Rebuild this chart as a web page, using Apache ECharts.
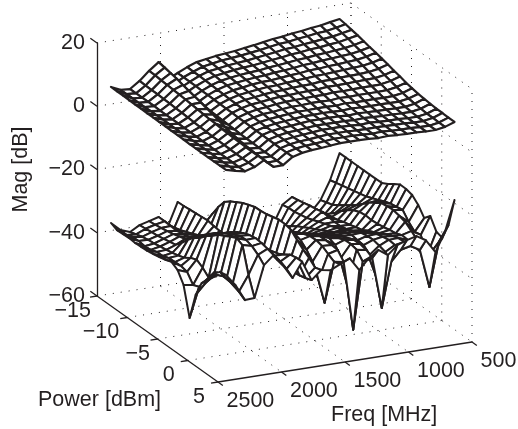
<!DOCTYPE html>
<html>
<head>
<meta charset="utf-8">
<title>Mag vs Power and Freq</title>
<script src="https://cdn.jsdelivr.net/npm/echarts@6/dist/echarts.min.js"></script>
<style>
  html, body { margin: 0; padding: 0; background: #fff; }
  #chart { width: 518px; height: 429px; }
</style>
</head>
<body>
<div id="chart"></div>
<script>
const freqTicks = [2500, 2000, 1500, 1000, 500]
const powerTicks = [-15, -10, -5, 0, 5]
const magTicks = [-60, -40, -20, 0, 20]

const freqs = [590, 665, 740, 815, 890, 965, 1040, 1115, 1190, 1265, 1340, 1415, 1490, 1565, 1640, 1715, 1790, 1865, 1940, 2015, 2090, 2165, 2240, 2315, 2390]
const powers = [-15, -14, -13, -12, -11, -10, -9, -8, -7, -6, -5, -4, -3, -2, -1, 0, 1, 2, 3, 4]

// one row per entry of freqs, one column per entry of powers
const magUpper = [
  [15.5,15.2,14.8,14.4,13.9,13.4,13,12.5,12,11.4,10.9,10.3,9.9,9.5,9.3,9.1,8.9,8.9,8.8,8.8],
  [15,14.6,14.2,13.8,13.2,12.7,12.2,11.7,11.1,10.5,10,9.4,8.9,8.5,8.2,8,7.8,7.8,7.7,7.7],
  [14.4,14,13.6,13.2,12.7,12.2,11.7,11.2,10.6,10,9.4,8.9,8.4,8,7.7,7.5,7.3,7.3,7.2,7.2],
  [14.1,13.8,13.3,12.9,12.4,12,11.5,11,10.4,9.9,9.3,8.8,8.3,8,7.7,7.5,7.3,7.3,7.2,7.2],
  [13.6,13.3,12.9,12.5,12.1,11.7,11.2,10.8,10.3,9.8,9.3,8.8,8.4,8.1,7.8,7.6,7.5,7.5,7.4,7.4],
  [13.3,13,12.6,12.3,11.9,11.5,11.1,10.6,10.2,9.7,9.2,8.8,8.3,8,7.8,7.6,7.5,7.5,7.4,7.4],
  [12.8,12.5,12.2,11.9,11.5,11.2,10.8,10.4,10,9.6,9.1,8.7,8.3,8.1,7.9,7.7,7.6,7.6,7.5,7.5],
  [12.5,12.3,12,11.7,11.3,11,10.7,10.3,10,9.6,9.2,8.8,8.5,8.2,8,7.9,7.8,7.7,7.7,7.7],
  [12,11.8,11.5,11.2,10.9,10.6,10.3,10,9.6,9.3,8.9,8.5,8.2,8,7.8,7.7,7.6,7.6,7.5,7.5],
  [11.5,11.3,11.1,10.9,10.6,10.3,10.1,9.8,9.5,9.2,8.9,8.6,8.3,8.1,8,7.9,7.8,7.7,7.7,7.7],
  [11.1,10.9,10.7,10.5,10.3,10.1,9.8,9.6,9.4,9.1,8.8,8.6,8.3,8.2,8,7.9,7.9,7.8,7.8,7.8],
  [10.6,10.5,10.3,10.1,9.9,9.7,9.5,9.3,9.1,8.9,8.7,8.4,8.2,8.1,8,7.9,7.9,7.8,7.8,7.8],
  [10.3,10.2,10,9.9,9.7,9.5,9.4,9.2,9,8.8,8.6,8.4,8.2,8.1,8,7.9,7.9,7.8,7.8,7.8],
  [10,9.9,9.7,9.6,9.4,9.2,9.1,8.9,8.7,8.5,8.3,8.1,7.9,7.8,7.7,7.6,7.6,7.5,7.5,7.5],
  [9.5,9.4,9.2,9.1,9,8.8,8.6,8.5,8.3,8.1,7.9,7.7,7.6,7.5,7.4,7.3,7.3,7.2,7.2,7.2],
  [9,8.9,8.8,8.7,8.5,8.4,8.2,8.1,7.9,7.8,7.6,7.5,7.3,7.2,7.1,7.1,7,7,7,7],
  [7.9,7.8,7.8,7.7,7.6,7.5,7.4,7.3,7.2,7.1,7,6.9,6.8,6.7,6.7,6.6,6.6,6.6,6.6,6.6],
  [6.5,6.5,6.4,6.4,6.3,6.3,6.2,6.2,6.1,6.1,6,6,5.9,5.9,5.9,5.8,5.8,5.8,5.8,5.8],
  [5,4.9,4.9,4.8,4.7,4.6,4.5,4.4,4.3,4.2,4.1,4,3.9,3.8,3.8,3.7,3.7,3.7,3.7,3.7],
  [10.9,10.5,10.1,9.7,9.1,8.6,8.1,7.6,7,6.5,5.9,5.3,4.8,4.4,4.1,3.9,3.7,3.7,3.6,3.6],
  [8.6,8.5,8.3,8.2,8,7.9,7.7,7.5,7.3,7.1,6.9,6.8,6.6,6.5,6.4,6.3,6.2,6.2,6.2,6.2],
  [5.9,5.8,5.7,5.7,5.6,5.5,5.4,5.3,5.2,5,4.9,4.8,4.7,4.7,4.6,4.6,4.5,4.5,4.5,4.5],
  [3.8,3.8,3.8,3.8,3.8,3.7,3.7,3.7,3.7,3.7,3.7,3.6,3.6,3.6,3.6,3.6,3.6,3.6,3.6,3.6],
  [4,4,4,4,4,4.1,4.1,4.1,4.1,4.1,4.1,4.2,4.2,4.2,4.2,4.2,4.2,4.2,4.2,4.2],
  [5.4,5.4,5.4,5.3,5.3,5.3,5.2,5.2,5.2,5.2,5.1,5.1,5.1,5,5,5,5,5,5,5]
]

const magLower = [
  [-26.9,-26.9,-26.9,-26.9,-26.9,-26.9,-26.9,-26.8,-25.8,-24.4,-23.2,-23.3,-23.8,-25.6,-28.4,-26.4,-30,-30.6,-25.2,-15.9],
  [-35,-34.5,-34,-33.5,-33,-32.5,-32,-31.2,-30.4,-29.5,-28.8,-28.5,-28.1,-30.5,-32.3,-31.9,-37.2,-34,-30,-25.5],
  [-40.8,-40.2,-39.6,-38.3,-37,-35.6,-34.2,-32.5,-30.8,-29.4,-28.1,-27.8,-27.6,-28.1,-28.7,-30.2,-31.7,-35,-43.8,-31.4],
  [-44.1,-43.4,-42.7,-41,-39,-37,-35.3,-34,-33.2,-32.9,-33.1,-32.9,-32.6,-32.1,-31.8,-31,-31.2,-31.5,-31.6,-27.2],
  [-41.4,-40.7,-40,-39.2,-38.9,-38.4,-38,-37.3,-36.8,-36.2,-35.7,-34.6,-33.7,-32.6,-31.6,-30.8,-30.1,-30,-29.9,-25.4],
  [-38.4,-38,-37.6,-37.1,-36.8,-36.3,-36.5,-36.8,-36.7,-36.3,-35.5,-34.5,-33.2,-32.1,-31.1,-30.6,-30.2,-30.5,-30.6,-26.2],
  [-40.4,-40,-39.9,-39.5,-39.1,-38.4,-37.6,-36.9,-36.2,-35.5,-34.7,-33.6,-32.7,-31.6,-31.2,-31.1,-31.6,-32.2,-33.9,-27.3],
  [-46.3,-45.3,-44,-42.6,-41.3,-40.2,-39.1,-38.1,-37,-36,-35,-33.6,-32.6,-31.8,-32.1,-32.3,-34,-39.1,-48.1,-30],
  [-49,-47.9,-46.6,-45.2,-43.9,-42.5,-40.8,-39.2,-37.8,-36.5,-35.1,-33.7,-32.7,-31.6,-31,-30.2,-30.1,-30.6,-31.8,-27.9],
  [-49.5,-48.1,-46.8,-45,-43.4,-42,-40.6,-39.3,-37.9,-36.6,-35.2,-33.8,-32.5,-31.4,-30.5,-29.7,-29.6,-30.1,-32.5,-30],
  [-47.1,-45.7,-44.4,-43,-41.7,-40.3,-38.9,-37.6,-36.2,-35.2,-34.1,-32.7,-31.7,-30.6,-30,-30.8,-33.5,-40.7,-53.5,-33.3],
  [-46,-44.6,-43.3,-41.9,-40.6,-39.2,-37.8,-36.5,-35.1,-34.1,-33.1,-32,-31,-29.9,-28.9,-28.8,-29,-29.2,-31.6,-29.1],
  [-44.9,-43.5,-41.6,-40.2,-38.9,-37.5,-36.1,-35.1,-34,-33.3,-32.2,-31.2,-30.2,-29.1,-28.4,-28.3,-28.8,-30,-31.1,-30.5],
  [-44.4,-42.4,-40.4,-38.4,-37.1,-35.7,-34.3,-33.3,-32.2,-31.6,-30.8,-30,-29.4,-28.6,-29.2,-30.9,-33.3,-37.7,-43.6,-31.9],
  [-42,-38.2,-34.6,-31.6,-30.1,-29,-27.9,-27.1,-26.4,-26.3,-26,-25.5,-25,-25,-25.5,-27.3,-29,-30.3,-32,-31.4],
  [-42.2,-41.5,-41.4,-40.7,-39.7,-38.6,-37.5,-36.5,-35.4,-35.1,-35,-34.8,-34.8,-34.6,-35.2,-35.7,-35.6,-35.3,-34.8,-34.1],
  [-41.1,-41.6,-41.5,-41.1,-40.4,-39.4,-38,-36.6,-35.3,-34.5,-34.5,-34.3,-33.6,-32.8,-32,-30.7,-29.6,-28.3,-27.9,-27.8],
  [-34.3,-34.2,-34,-33.8,-33.6,-33.4,-33.8,-34,-34,-33.5,-33,-32,-31,-30,-29.5,-29,-29.5,-30,-31,-32.5],
  [-41.4,-40.8,-40,-39.2,-38.4,-37.5,-36.6,-35.6,-34.5,-33,-31.5,-30,-28.5,-27.5,-27,-26.5,-26.5,-27,-27.5,-28],
  [-38.1,-38.1,-38.2,-38.4,-38,-37.5,-36.6,-36,-35,-32.5,-30.2,-28.2,-26.6,-25.2,-24.2,-23.4,-23,-23.2,-23.7,-24.3],
  [-38.9,-38.7,-38.4,-38,-37.6,-37,-36.4,-35.8,-32.7,-31.1,-29.4,-27.7,-26.4,-25,-24,-23.2,-23.1,-23.7,-25.1,-27],
  [-39.7,-39.5,-39.2,-39,-38.6,-38.2,-37.8,-35.8,-33.5,-31.5,-30.2,-28.2,-26.8,-25.1,-24.1,-23,-22,-22.9,-31,-36.9],
  [-41.4,-40.8,-40.2,-39.8,-39.6,-39.2,-38.9,-38.5,-38,-37.3,-36,-35.2,-36.4,-38.2,-35,-34.2,-34.1,-34.4,-35.8,-37.1],
  [-40.3,-40.5,-39.8,-39.7,-40,-39.8,-39.1,-39,-38.3,-38.2,-38.1,-38.6,-41.4,-40.6,-38.1,-35.1,-32.1,-31.8,-32,-31.9],
  [-37.6,-38.5,-38.4,-38.3,-38.5,-38.4,-38.3,-37.9,-37.5,-37,-36.3,-37.5,-40.9,-50,-41.3,-36.2,-33.6,-30.6,-28.6,-28.2]
]

const ink = '#231f20'
const fontFamily = '"Liberation Sans", Arial, sans-serif'
const fontSize = 21.5

// fixed view: returns plot units, x in px from the axis, y on the Mag scale
function project(freq, power, mag) {
  const d = 2500 - freq
  const p = power + 15
  return [d * 0.127 + p * 6.05, mag - (p * 4.3 - d * 0.02) / 3.1625]
}

function lineItem(api, a, b, style) {
  const p1 = api.coord(project(a[0], a[1], a[2]))
  const p2 = api.coord(project(b[0], b[1], b[2]))
  return {
    type: 'line',
    shape: { x1: p1[0], y1: p1[1], x2: p2[0], y2: p2[1] },
    style: style
  }
}

// dotted box walls and floor
const wallLines = []
magTicks.forEach((m) => {
  wallLines.push([[2500, -15, m], [500, -15, m]])
  wallLines.push([[500, -15, m], [500, 5, m]])
})
freqTicks.forEach((f) => {
  if (f !== 2500) wallLines.push([[f, -15, -60], [f, -15, 20]])
  if (f !== 2500 && f !== 500) wallLines.push([[f, -15, -60], [f, 5, -60]])
})
powerTicks.forEach((p) => {
  wallLines.push([[500, p, -60], [500, p, 20]])
  if (p !== -15 && p !== 5) wallLines.push([[2500, p, -60], [500, p, -60]])
})

// solid axis lines and the slanted tick marks
const axisLines = [
  [[2500, -15, -60], [2500, 5, -60]],
  [[2500, 5, -60], [500, 5, -60]]
]
magTicks.forEach((m) => axisLines.push([[2500, -15, m], [2500, -16.1, m]]))
freqTicks.forEach((f) => axisLines.push([[f, 5, -60], [f, 5.8, -60]]))
powerTicks.forEach((p) => axisLines.push([[2500, p, -60], [2555, p, -60]]))

function segmentSeries(list, style) {
  return {
    type: 'custom',
    silent: true,
    data: list.map((_, i) => [i, 0]),
    renderItem: (params, api) => {
      const seg = list[api.value(0)]
      return lineItem(api, seg[0], seg[1], style)
    }
  }
}

function meshSeries(mags, width) {
  const cells = []
  for (let r = 0; r < freqs.length - 1; r++) {
    for (let c = 0; c < powers.length - 1; c++) {
      cells.push([r, c])
    }
  }
  return {
    type: 'custom',
    silent: true,
    data: cells,
    renderItem: (params, api) => {
      const r = api.value(0)
      const c = api.value(1)
      const corners = [[r, c], [r, c + 1], [r + 1, c + 1], [r + 1, c]]
      return {
        type: 'polygon',
        shape: {
          points: corners.map((n) => api.coord(project(freqs[n[0]], powers[n[1]], mags[n[0]][n[1]])))
        },
        style: { fill: '#fff', stroke: ink, lineWidth: width, lineJoin: 'round' }
      }
    }
  }
}

function tickLabelSeries(ticks, toPoint, dx, dy, align) {
  return {
    type: 'custom',
    silent: true,
    data: ticks.map((_, i) => [i, 0]),
    renderItem: (params, api) => {
      const i = api.value(0)
      const t = ticks[i]
      const pos = api.coord(project.apply(null, toPoint(t)))
      return {
        type: 'text',
        x: pos[0] + dx(i),
        y: pos[1] + dy,
        style: {
          text: String(t).replace('-', '\u2212'),
          fill: ink,
          font: fontSize + 'px ' + fontFamily,
          textAlign: align,
          textVerticalAlign: 'middle'
        }
      }
    }
  }
}

const powerLabelDx = [-6, -8, -7.5, -13, -13]

const chart = echarts.init(document.getElementById('chart'), null, { renderer: 'canvas' })

chart.setOption({
  animation: false,
  backgroundColor: '#fff',
  grid: { left: 97, top: 43, width: 375, height: 253, outerBoundsMode: 'none' },
  xAxis: { type: 'value', min: 0, max: 375, show: false },
  yAxis: {
    type: 'value',
    min: -60,
    max: 20,
    interval: 20,
    name: 'Mag [dB]',
    nameLocation: 'middle',
    nameRotate: 90,
    nameGap: 65,
    nameMoveOverlap: false,
    nameTextStyle: { color: ink, fontSize: fontSize, fontFamily: fontFamily },
    axisLine: { show: true, lineStyle: { color: ink, width: 1.3 } },
    axisTick: { show: false },
    splitLine: { show: false },
    axisLabel: {
      color: ink,
      fontSize: fontSize,
      fontFamily: fontFamily,
      margin: 12,
      padding: [2, 0, 0, 0],
      formatter: (v) => String(v).replace('-', '\u2212')
    }
  },
  graphic: [
    {
      type: 'text',
      left: 38,
      top: 389,
      style: { text: 'Power [dBm]', fill: ink, font: fontSize + 'px ' + fontFamily }
    },
    {
      type: 'text',
      left: 331,
      top: 404,
      style: { text: 'Freq [MHz]', fill: ink, font: fontSize + 'px ' + fontFamily }
    }
  ],
  series: [
    segmentSeries(wallLines, { stroke: ink, lineWidth: 1, lineDash: [1, 7] }),
    segmentSeries(axisLines, { stroke: ink, lineWidth: 1.3 }),
    meshSeries(magLower, 2),
    meshSeries(magUpper, 2.2),
    tickLabelSeries(powerTicks, (p) => [2500, p, -60], (i) => powerLabelDx[i], 15, 'right'),
    tickLabelSeries(freqTicks, (f) => [f, 5, -60], () => 8.5, 19, 'left')
  ]
})

window.addEventListener('resize', () => {
  chart.resize()
})
</script>
</body>
</html>
